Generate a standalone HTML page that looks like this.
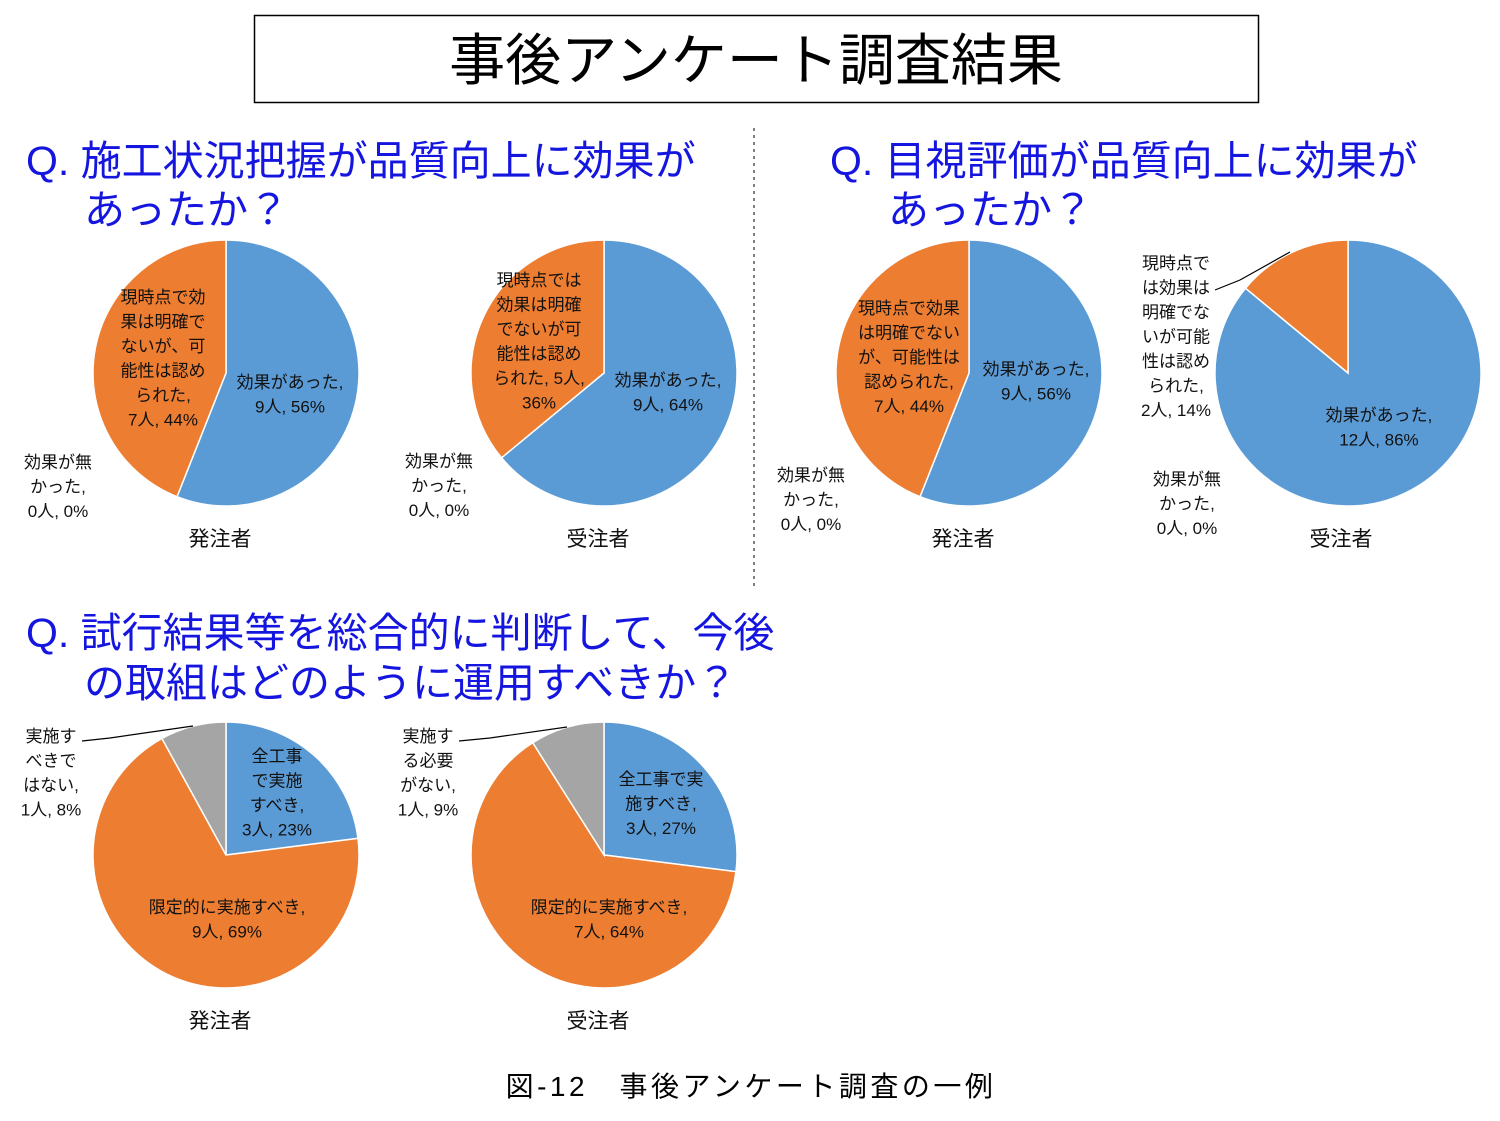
<!DOCTYPE html>
<html><head><meta charset="utf-8"><style>
html,body{margin:0;padding:0;background:#fff}
svg text{font-family:"Liberation Sans","Noto Sans CJK JP",sans-serif}
</style></head><body>
<svg id="s" width="1500" height="1116" viewBox="0 0 1500 1116" xmlns="http://www.w3.org/2000/svg">
<rect x="0" y="0" width="1500" height="1116" fill="#fff"/>
<rect x="254.5" y="15.5" width="1004" height="87" fill="none" stroke="#000" stroke-width="1.5"/>
<text x="756" y="80" font-size="56" text-anchor="middle" fill="#000">事後アンケート調査結果</text>
<line x1="754" y1="128" x2="754" y2="590" stroke="#555" stroke-width="1.5" stroke-dasharray="3,4"/>
<g fill="#1515e0" font-size="41">
<text x="26" y="175">Q. 施工状況把握が品質向上に効果が</text>
<text x="84" y="224">あったか？</text>
<text x="830" y="175">Q. 目視評価が品質向上に効果が</text>
<text x="888" y="224">あったか？</text>
<text x="26" y="647">Q. 試行結果等を総合的に判断して、今後</text>
<text x="84" y="697">の取組はどのように運用すべきか？</text>
</g>
<g id="pies"></g>
<g font-size="21" text-anchor="middle" fill="#111">
<text x="220" y="546">発注者</text>
<text x="598" y="546">受注者</text>
<text x="963" y="546">発注者</text>
<text x="1341" y="546">受注者</text>
<text x="220" y="1028">発注者</text>
<text x="598" y="1028">受注者</text>
</g>
<text x="751" y="1096" font-size="28" letter-spacing="3.5" text-anchor="middle" fill="#000">図-12　事後アンケート調査の一例</text>
<g stroke="#000" stroke-width="1.2" fill="none">
<polyline points="1215,290 1240,280 1290,252"/>
<polyline points="82,741 110,738 193,726"/>
<polyline points="459,741 490,738 567,727"/>
</g>
<g id="labels" font-size="17" text-anchor="middle" fill="#111"></g>
</svg>
<script>
var C={b:"#5b9bd5",o:"#ed7d31",g:"#a5a5a5"};
var pies=[[226,373,[[56,'b'],[44,'o']]],[604,373,[[64,'b'],[36,'o']]],[969,373,[[56,'b'],[44,'o']]],[1348,373,[[86,'b'],[14,'o']]],[226,855,[[23,'b'],[69,'o'],[8,'g']]],[604,855,[[27,'b'],[64,'o'],[9,'g']]]];
var R=133,h='';
pies.forEach(function(p){var cx=p[0],cy=p[1],a=0;p[2].forEach(function(s){var a1=a+s[0]/100*2*Math.PI;
var x0=cx+R*Math.sin(a),y0=cy-R*Math.cos(a),x1=cx+R*Math.sin(a1),y1=cy-R*Math.cos(a1);
h+='<path d="M'+cx+','+cy+' L'+x0+','+y0+' A'+R+','+R+' 0 '+(a1-a>Math.PI?1:0)+',1 '+x1+','+y1+' Z" fill="'+C[s[1]]+'" stroke="#fff" stroke-width="1.5"/>';a=a1;});});
document.getElementById('pies').innerHTML=h;
var L=[[163,302,['現時点で効','果は明確で','ないが、可','能性は認め','られた,','7人, 44%']],
[290,387,['効果があった,','9人, 56%']],
[58,467,['効果が無','かった,','0人, 0%']],
[539,285,['現時点では','効果は明確','でないが可','能性は認め','られた, 5人,','36%']],
[668,385,['効果があった,','9人, 64%']],
[439,466,['効果が無','かった,','0人, 0%']],
[909,313,['現時点で効果','は明確でない','が、可能性は','認められた,','7人, 44%']],
[1036,374,['効果があった,','9人, 56%']],
[811,480,['効果が無','かった,','0人, 0%']],
[1176,268,['現時点で','は効果は','明確でな','いが可能','性は認め','られた,','2人, 14%']],
[1379,420,['効果があった,','12人, 86%']],
[1187,484,['効果が無','かった,','0人, 0%']],
[51,741,['実施す','べきで','はない,','1人, 8%']],
[277,761,['全工事','で実施','すべき,','3人, 23%']],
[227,912,['限定的に実施すべき,','9人, 69%']],
[428,741,['実施す','る必要','がない,','1人, 9%']],
[661,784,['全工事で実','施すべき,','3人, 27%']],
[609,912,['限定的に実施すべき,','7人, 64%']]];
var t='';L.forEach(function(l){l[2].forEach(function(s,i){t+='<text x="'+l[0]+'" y="'+(l[1]+1+i*24.5)+'">'+s+'</text>';});});
document.getElementById('labels').innerHTML=t;
</script>
</body></html>
